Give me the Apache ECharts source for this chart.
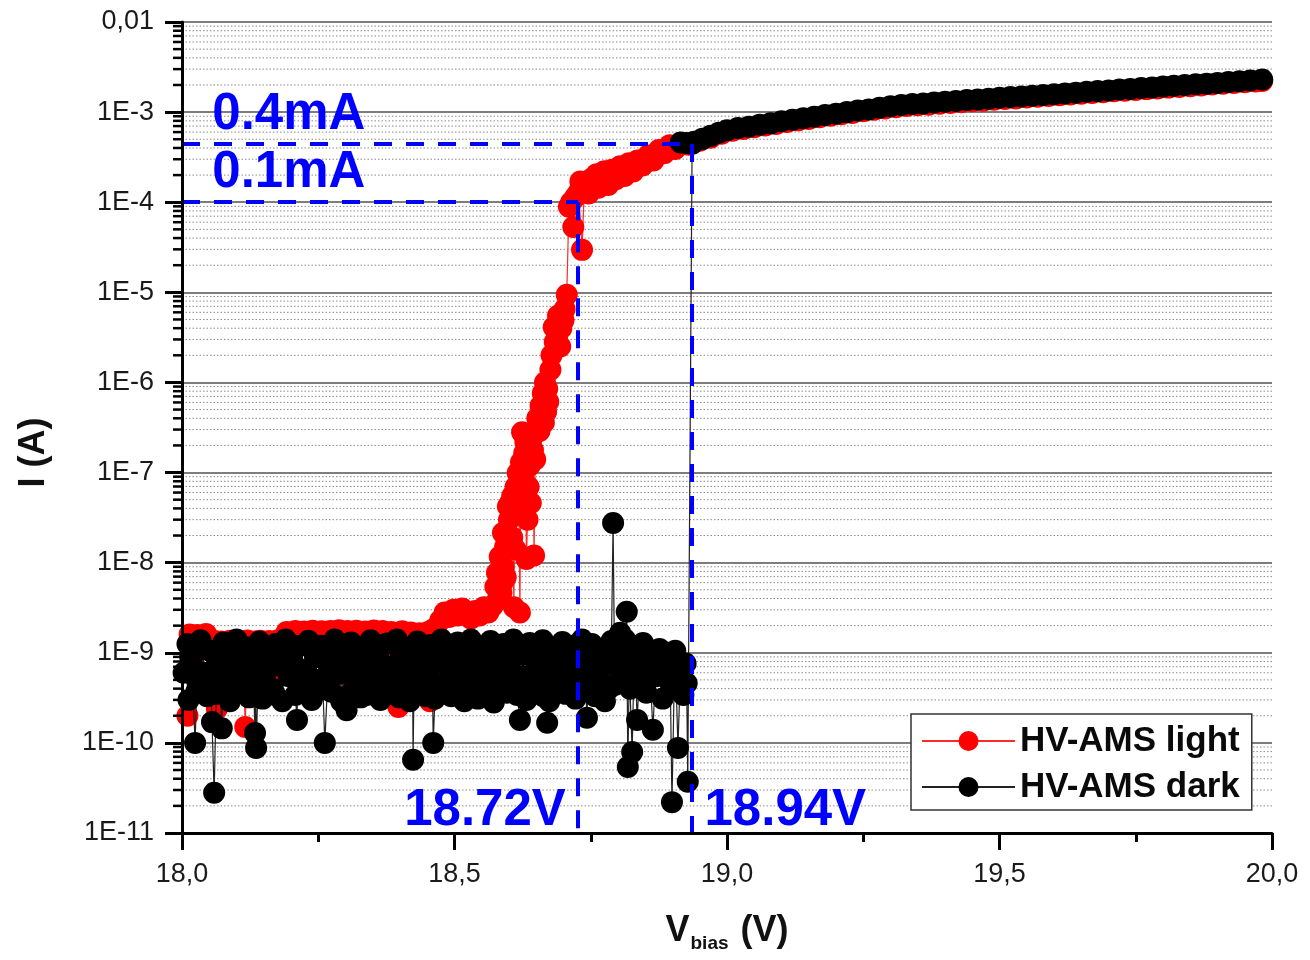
<!DOCTYPE html>
<html><head><meta charset="utf-8">
<script src="https://cdn.jsdelivr.net/npm/echarts@6/dist/echarts.min.js"></script>
<style>html,body{margin:0;padding:0;background:#fff}#c{width:1310px;height:960px}</style>
</head><body><div id="c"></div>
<script>
const FONT = '"Liberation Sans", Arial, Helvetica, sans-serif';
const xMin = 18, xMax = 20, xStep = 0.5;
const yMin = 1e-11, yMax = 1e-2;
const xTickLabels = ['18,0', '18,5', '19,0', '19,5', '20,0'];
const yTickLabels = ['1E-11', '1E-10', '1E-9', '1E-8', '1E-7', '1E-6', '1E-5', '1E-4', '1E-3', '0,01'];
const seriesNames = ['HV-AMS light', 'HV-AMS dark'];

// HV-AMS light: noise floor below breakdown
const lightFloor = [
[18.010,2.0e-10],[18.014,1.6e-9],[18.020,9.0e-10],[18.028,1.58e-9],[18.036,5.0e-10],[18.044,1.62e-9],
[18.052,1.2e-9],[18.060,1.35e-9],[18.064,2.4e-10],[18.072,1.33e-9],[18.080,7.0e-10],[18.088,1.36e-9],
[18.096,4.0e-10],[18.104,1.3e-9],[18.112,1.0e-9],[18.116,1.5e-10],[18.120,1.37e-9],[18.128,6.0e-10],
[18.136,1.34e-9],[18.144,1.36e-9],[18.152,8.0e-10],[18.160,1.35e-9],[18.168,5.5e-10],[18.176,1.38e-9],
[18.184,1.1e-9],[18.192,1.7e-9],[18.200,6.5e-10],[18.208,1.75e-9],[18.216,1.2e-9],[18.224,1.72e-9],
[18.232,4.5e-10],[18.240,1.76e-9],[18.248,9.0e-10],[18.256,1.73e-9],[18.264,1.3e-9],[18.272,1.75e-9],
[18.280,6.0e-10],[18.288,1.78e-9],[18.296,1.1e-9],[18.304,1.74e-9],[18.312,5.0e-10],[18.320,1.76e-9],
[18.328,1.25e-9],[18.336,1.72e-9],[18.344,7.5e-10],[18.352,1.77e-9],[18.360,1.0e-9],[18.368,1.74e-9],
[18.376,5.5e-10],[18.384,1.7e-9],[18.392,1.2e-9],[18.397,2.5e-10],[18.404,1.73e-9],[18.412,8.0e-10],
[18.420,1.68e-9],[18.428,1.3e-9],[18.436,1.65e-9],[18.444,6.0e-10],[18.452,1.7e-9],[18.455,2.9e-10],
[18.460,1.8e-9]
];
// HV-AMS light: steep rise
const lightRise = [
[18.466,1.9e-9],[18.474,2.3e-9],[18.482,2.8e-9],[18.490,2.5e-9],[18.498,3.0e-9],[18.506,2.6e-9],
[18.514,3.1e-9],[18.522,2.7e-9],[18.530,2.4e-9],[18.538,2.9e-9],[18.546,2.6e-9],[18.554,3.2e-9],
[18.562,2.8e-9],[18.570,3.3e-9],[18.575,5.4e-9],[18.578,7.7e-9],[18.583,1.16e-8],[18.586,4.6e-9],
[18.589,2.14e-8],[18.594,6.9e-9],[18.598,4.2e-8],[18.602,4.6e-8],[18.606,1.9e-8],[18.609,3.2e-9],
[18.612,6.9e-8],[18.616,9.9e-8],[18.620,2.8e-9],[18.624,2.8e-7],[18.628,1.65e-7],[18.632,1.1e-8],
[18.636,6.9e-8],[18.640,4.6e-8],[18.644,1.78e-7],[18.650,3.0e-7],[18.656,2.9e-7],[18.662,7.6e-7],
[18.668,4.7e-7],[18.672,6.1e-7],[18.676,1.38e-6],[18.682,4.1e-6],[18.688,3.2e-6],[18.694,2.5e-6],
[18.700,4.9e-6],[18.706,9.4e-6],[18.710,8.9e-5],[18.714,1.0e-4],[18.718,5.3e-5],
[18.580,4.0e-9],[18.588,6.0e-9],[18.590,9.0e-9],[18.593,1.5e-8],[18.600,3.0e-8],[18.606,5.5e-8],
[18.610,3.5e-8],[18.612,1.4e-8],[18.618,6.0e-8],[18.622,1.3e-7],[18.626,9.0e-8],[18.630,2.2e-7],
[18.634,3.0e-8],[18.638,1.2e-7],[18.642,2.4e-7],[18.646,1.2e-8],[18.648,1.4e-7],[18.652,4.0e-7],
[18.658,5.5e-7],[18.664,3.6e-7],[18.666,1.0e-6],[18.670,8.5e-7],[18.678,2.0e-6],[18.684,2.8e-6],
[18.690,5.5e-6],[18.696,4.0e-6],[18.702,6.5e-6]
];
// HV-AMS light: after breakdown
const lightUpper = [
[18.722,1.15e-4],[18.728,1.3e-4],[18.734,2.96e-5],[18.738,1.3e-4],[18.731,1.7e-4],[18.744,1.45e-4],
[18.746,1.25e-4],[18.750,1.5e-4],[18.753,1.85e-4],[18.757,1.6e-4],[18.761,2.05e-4],[18.764,1.45e-4],
[18.768,1.6e-4],[18.771,1.75e-4],[18.775,2.2e-4],[18.778,1.85e-4],[18.782,1.55e-4],[18.785,1.7e-4],
[18.789,2.3e-4],[18.792,2.0e-4],[18.796,1.8e-4],[18.800,2.15e-4],[18.804,2.5e-4],[18.808,2.05e-4],
[18.812,1.95e-4],[18.816,2.35e-4],[18.820,2.7e-4],[18.824,2.5e-4],[18.828,2.2e-4],[18.832,2.45e-4],
[18.836,2.9e-4],[18.840,2.7e-4],[18.845,2.55e-4],[18.850,2.85e-4],[18.855,3.3e-4],[18.860,3.1e-4],
[18.865,2.9e-4],[18.870,3.4e-4],[18.875,3.8e-4],[18.880,3.7e-4],[18.885,3.5e-4],[18.890,3.9e-4],
[18.895,4.3e-4],[18.900,4.1e-4],[18.905,3.9e-4],[18.910,4.3e-4],[18.920,4.4e-4],[18.930,4.35e-4],
[18.950,4.8e-4],[18.970,5.2e-4],[18.990,5.75e-4],
[19.010,6.2e-4],[19.030,6.5e-4],[19.050,6.8e-4],[19.070,7.1e-4],[19.090,7.4e-4],[19.110,7.75e-4],
[19.130,8.1e-4],[19.150,8.4e-4],[19.170,8.75e-4],[19.190,9.1e-4],[19.210,9.45e-4],[19.230,9.8e-4],
[19.250,1.02e-3],[19.270,1.06e-3],[19.290,1.1e-3],[19.310,1.13e-3],[19.330,1.17e-3],[19.350,1.19e-3],
[19.370,1.21e-3],[19.390,1.24e-3],[19.410,1.26e-3],[19.430,1.29e-3],[19.450,1.32e-3],[19.470,1.34e-3],
[19.490,1.37e-3],[19.510,1.4e-3],[19.530,1.42e-3],[19.550,1.45e-3],[19.570,1.48e-3],[19.590,1.51e-3],
[19.610,1.54e-3],[19.630,1.57e-3],[19.650,1.6e-3],[19.670,1.63e-3],[19.690,1.66e-3],[19.710,1.7e-3],
[19.730,1.73e-3],[19.750,1.76e-3],[19.770,1.8e-3],[19.790,1.83e-3],[19.810,1.87e-3],[19.830,1.9e-3],
[19.850,1.94e-3],[19.870,1.98e-3],[19.890,2.02e-3],[19.910,2.06e-3],[19.930,2.1e-3],[19.950,2.14e-3],
[19.970,2.19e-3],[19.982,2.22e-3]
];
// HV-AMS dark: noise floor
const darkFloor = [
[18.010,1.25e-9],[18.012,3.0e-10],[18.018,7.6e-10],[18.024,1.0e-10],[18.028,4.8e-10],[18.034,1.38e-9],
[18.040,6.0e-10],[18.046,3.3e-10],[18.052,1.05e-9],[18.055,1.7e-10],[18.059,2.8e-11],[18.064,8.5e-10],
[18.070,4.1e-10],[18.073,1.45e-10],[18.076,1.3e-9],[18.082,5.3e-10],[18.088,2.9e-10],[18.094,9.4e-10],
[18.100,1.4e-9],[18.106,6.8e-10],[18.112,3.6e-10],[18.118,1.15e-9],[18.124,4.5e-10],[18.130,8.0e-10],
[18.134,1.29e-10],[18.136,8.8e-11],[18.142,1.33e-9],[18.148,3.1e-10],[18.154,6.3e-10],[18.160,1.0e-9],
[18.166,4.0e-10],[18.172,1.25e-9],[18.178,7.2e-10],[18.184,2.9e-10],[18.190,1.4e-9],[18.196,5.5e-10],
[18.202,8.7e-10],[18.208,3.4e-10],[18.211,1.8e-10],[18.214,1.18e-9],[18.220,6.5e-10],[18.226,4.3e-10],
[18.232,1.36e-9],[18.238,3.0e-10],[18.244,9.0e-10],[18.250,5.0e-10],[18.256,1.2e-9],[18.262,1.0e-10],
[18.268,7.5e-10],[18.274,3.7e-10],[18.280,1.4e-9],[18.286,5.8e-10],[18.292,2.9e-10],[18.298,1.02e-9],
[18.302,2.3e-10],[18.304,6.9e-10],[18.310,1.3e-9],[18.316,4.2e-10],[18.322,8.3e-10],[18.328,3.2e-10],
[18.334,1.15e-9],[18.340,6.1e-10],[18.346,1.38e-9],[18.352,4.7e-10],[18.358,9.7e-10],[18.364,3.0e-10],
[18.370,7.3e-10],[18.376,1.27e-9],[18.382,5.2e-10],[18.388,3.5e-10],[18.394,1.4e-9],[18.400,8.6e-10],
[18.406,4.4e-10],[18.412,1.1e-9],[18.418,2.9e-10],[18.424,6.5e-11],[18.426,6.6e-10],[18.432,1.33e-9],
[18.438,3.8e-10],[18.444,9.2e-10],[18.450,5.6e-10],[18.456,1.22e-9],[18.461,1.0e-10],[18.464,3.1e-10],
[18.470,7.8e-10],[18.476,1.4e-9],[18.482,4.6e-10],[18.488,1.0e-9],[18.494,3.3e-10],[18.500,6.4e-10],
[18.506,1.3e-9],[18.512,5.0e-10],[18.518,2.9e-10],[18.524,8.8e-10],[18.530,1.4e-9],[18.536,4.1e-10],
[18.542,7.0e-10],[18.548,1.17e-9],[18.554,3.4e-10],[18.560,5.9e-10],[18.566,1.35e-9],[18.572,2.8e-10],
[18.578,8.2e-10],[18.584,4.8e-10],[18.590,1.25e-9],[18.596,3.6e-10],[18.602,6.8e-10],[18.608,1.4e-9],
[18.614,4.3e-10],[18.620,1.8e-10],[18.626,9.5e-10],[18.632,3.0e-10],[18.638,1.28e-9],[18.644,5.4e-10],
[18.650,8.0e-10],[18.656,3.9e-10],[18.662,1.38e-9],[18.668,6.2e-10],[18.670,1.67e-10],[18.674,2.9e-10],
[18.680,1.08e-9],[18.686,4.5e-10],[18.692,7.6e-10],[18.698,1.32e-9],[18.704,3.5e-10],[18.710,5.7e-10],
[18.716,1.2e-9],[18.722,3.1e-10],[18.728,8.6e-10],[18.734,1.4e-9],[18.740,4.9e-10],[18.743,1.9e-10],
[18.746,7.2e-10],[18.752,1.25e-9],[18.758,3.3e-10],[18.764,6.0e-10],[18.770,1.1e-9],[18.776,2.9e-10],
[18.782,8.4e-10],[18.788,1.35e-9],[18.791,2.75e-8],[18.794,4.4e-10],[18.800,6.9e-10],[18.804,1.67e-9],
[18.809,9.0e-10],[18.816,2.85e-9],[18.818,5.4e-11],[18.822,4.0e-10],[18.826,7.9e-11],[18.830,1.2e-9],
[18.835,1.8e-10],[18.840,6.5e-10],[18.846,1.28e-9],[18.852,3.6e-10],[18.858,8.0e-10],[18.864,1.4e-10],
[18.870,5.5e-10],[18.876,1.1e-9],[18.882,3.1e-10],[18.888,7.0e-10],[18.890,1.0e-9],[18.896,4.6e-10],
[18.899,2.2e-11],[18.904,8.3e-10],[18.910,8.8e-11],[18.914,5.2e-10],[18.920,3.4e-10],[18.924,7.6e-10],
[18.928,3.7e-11]
];
// HV-AMS dark: additional noise-floor readings between the ones above
const darkFloorMore = [
[18.003,6.0e-10],[18.015,9.0e-10],[18.027,3.8e-10],[18.039,1.1e-9],[18.051,5.2e-10],[18.063,3.5e-10],
[18.075,7.0e-10],[18.087,1.15e-9],[18.099,4.6e-10],[18.111,8.2e-10],[18.123,3.2e-10],[18.135,6.4e-10],
[18.147,1.05e-9],[18.159,4.2e-10],[18.171,3.4e-10],[18.183,9.6e-10],[18.195,6.8e-10],[18.207,1.2e-9],
[18.219,3.6e-10],[18.231,5.6e-10],[18.243,1.1e-9],[18.255,3.9e-10],[18.267,4.4e-10],[18.279,8.8e-10],
[18.291,6.0e-10],[18.303,3.3e-10],[18.315,1.0e-9],[18.327,5.7e-10],[18.339,3.4e-10],[18.351,7.8e-10],
[18.363,1.15e-9],[18.375,4.0e-10],[18.387,6.7e-10],[18.399,3.2e-10],[18.411,5.4e-10],[18.423,9.4e-10],
[18.435,4.7e-10],[18.447,3.3e-10],[18.459,7.4e-10],[18.471,4.2e-10],[18.483,1.1e-9],[18.495,5.6e-10],
[18.507,3.5e-10],[18.519,7.2e-10],[18.531,4.4e-10],[18.543,3.1e-10],[18.555,9.0e-10],[18.567,5.0e-10],
[18.579,3.6e-10],[18.591,6.6e-10],[18.603,1.05e-9],[18.615,3.4e-10],[18.627,5.5e-10],[18.639,4.0e-10],
[18.651,1.15e-9],[18.663,3.3e-10],[18.675,7.0e-10],[18.687,5.1e-10],[18.699,9.2e-10],[18.711,3.6e-10],
[18.723,6.2e-10],[18.735,4.3e-10],[18.747,1.0e-9],[18.759,5.2e-10],[18.771,7.4e-10],[18.783,4.0e-10],
[18.795,1.1e-9],[18.807,5.8e-10],[18.813,1.4e-9],[18.821,8.0e-10],[18.833,4.6e-10],[18.845,7.2e-10],
[18.857,1.0e-9],[18.869,6.0e-10],[18.881,8.5e-10],[18.893,5.6e-10],[18.905,1.05e-9],[18.917,6.4e-10],
[18.926,4.6e-10]
];
// HV-AMS dark: after breakdown
const darkUpper = [
[18.936,4.45e-4],[18.915,4.6e-4],[18.925,4.55e-4],[18.940,4.7e-4],[18.955,5.05e-4],[18.970,5.45e-4],
[18.985,5.9e-4],[19.000,6.3e-4],[19.020,6.65e-4],[19.040,6.9e-4],[19.060,7.25e-4],[19.080,7.5e-4],
[19.100,7.9e-4],[19.120,8.25e-4],[19.140,8.55e-4],[19.160,8.9e-4],[19.180,9.3e-4],[19.200,9.6e-4],
[19.220,1.0e-3],[19.240,1.04e-3],[19.260,1.07e-3],[19.280,1.12e-3],[19.300,1.16e-3],[19.320,1.2e-3],
[19.340,1.23e-3],[19.360,1.25e-3],[19.380,1.28e-3],[19.400,1.3e-3],[19.420,1.33e-3],[19.440,1.36e-3],
[19.460,1.38e-3],[19.480,1.41e-3],[19.500,1.44e-3],[19.520,1.47e-3],[19.540,1.49e-3],[19.560,1.52e-3],
[19.580,1.55e-3],[19.600,1.58e-3],[19.620,1.61e-3],[19.640,1.64e-3],[19.660,1.68e-3],[19.680,1.71e-3],
[19.700,1.74e-3],[19.720,1.78e-3],[19.740,1.81e-3],[19.760,1.85e-3],[19.780,1.88e-3],[19.800,1.92e-3],
[19.820,1.96e-3],[19.840,2.0e-3],[19.860,2.04e-3],[19.880,2.07e-3],[19.900,2.11e-3],[19.920,2.16e-3],
[19.940,2.2e-3],[19.960,2.24e-3],[19.982,2.3e-3]
];

// Threshold guides (blue dashed)
const guideCurrents = [4.43e-4, 1.0e-4];
const guideVoltages = [18.936, 18.727];
// Annotation texts and their anchor values
const annotText = ['0.4mA', '0.1mA', '18.72V', '18.94V'];
const annotV = [18.196, 18.196, 18.556, 19.107];
const annotI = [9.3e-4, 2.09e-4, 1.75e-11, 1.75e-11];

const byV = (a, b) => a[0] - b[0];
const lightData = lightFloor.slice().sort(byV).concat(lightRise.slice().sort(byV), lightUpper);
const darkData = darkFloor.concat(darkFloorMore).sort(byV).concat(darkUpper);

// log-axis minor positions (2..9 per decade)
const minorVals = [];
for (let e = -11; e < -2; e++) for (let m = 2; m <= 9; m++) minorVals.push(+(m + 'e' + e));

const chart = echarts.init(document.getElementById('c'), null, {renderer: 'canvas'});

const yLabelFmt = v => yTickLabels[Math.round(Math.log10(v)) + 11];
const xLabelFmt = v => xTickLabels[Math.round((v - xMin) / xStep)];

const dash = {color: '#0000ff', width: 4, type: [18, 14], opacity: 1};
const guideLines = [
  [{coord: [xMin, guideCurrents[0]]}, {coord: [guideVoltages[0], guideCurrents[0]]}],
  [{coord: [guideVoltages[0], guideCurrents[0]]}, {coord: [guideVoltages[0], yMin]}],
  [{coord: [xMin, guideCurrents[1]]}, {coord: [guideVoltages[1], guideCurrents[1]]}],
  [{coord: [guideVoltages[1], guideCurrents[1]]}, {coord: [guideVoltages[1], yMin]}]
];

const MS = 22;

const option = {
  animation: false,
  backgroundColor: '#ffffff',
  grid: {left: 182, right: 38, top: 22, bottom: 127, outerBoundsMode: 'none', containLabel: false},
  legend: {
    data: seriesNames,
    orient: 'vertical',
    left: 911, top: 714,
    padding: [7, 12, 3, 10],
    itemGap: 6,
    itemWidth: 93, itemHeight: 25,
    backgroundColor: '#ffffff',
    borderColor: '#333333', borderWidth: 1.5, borderRadius: 0,
    selectedMode: false,
    textStyle: {fontFamily: FONT, fontSize: 35, fontWeight: 'bold', color: '#0a0a0a', lineHeight: 40}
  },
  xAxis: {
    type: 'value', min: xMin, max: xMax, interval: xStep,
    name: '{v|V}{s|bias}{v| (V)}',
    nameLocation: 'middle', nameGap: 76, nameMoveOverlap: false,
    nameTextStyle: {rich: {
      v: {fontFamily: FONT, fontSize: 36, fontWeight: 'bold', color: '#111', lineHeight: 44},
      s: {fontFamily: FONT, fontSize: 19, fontWeight: 'bold', color: '#111', verticalAlign: 'bottom', lineHeight: 44, padding: [0, 2, 0, 1]}
    }},
    axisLine: {show: true, onZero: false, lineStyle: {color: '#000', width: 3}},
    axisTick: {show: true, length: 17, lineStyle: {color: '#000', width: 3}},
    minorTick: {show: true, splitNumber: 2, length: 9, lineStyle: {color: '#000', width: 3}},
    splitLine: {show: false},
    axisLabel: {margin: 28, fontFamily: FONT, fontSize: 27, color: '#1a1a1a', formatter: xLabelFmt},
    z: 10
  },
  yAxis: [
    {
      type: 'log', logBase: 10, min: yMin, max: yMax, splitNumber: 9,
      axisLine: {show: false}, axisTick: {show: false}, axisLabel: {show: false},
      splitLine: {show: true, lineStyle: {color: '#7d7d7d', width: 2}}
    },
    {
      type: 'log', logBase: 10, min: yMin, max: yMax, splitNumber: 9, position: 'left',
      name: 'I (A)', nameLocation: 'middle', nameGap: 130, nameMoveOverlap: false,
      nameTextStyle: {fontFamily: FONT, fontSize: 36, fontWeight: 'bold', color: '#111', padding: [0, 50, 0, 0]},
      axisLine: {show: true, onZero: false, lineStyle: {color: '#000', width: 3}},
      axisTick: {show: true, length: 17, lineStyle: {color: '#000', width: 3}},
      splitLine: {show: false},
      axisLabel: {margin: 28, fontFamily: FONT, fontSize: 27, color: '#1a1a1a', formatter: yLabelFmt},
      z: 10
    }
  ],
  series: [
    {
      type: 'custom', name: 'minorGrid', coordinateSystem: 'cartesian2d', yAxisIndex: 0,
      silent: true, z: 1,
      data: minorVals.map(v => [xMin, v]),
      encode: {x: 0, y: 1},
      renderItem: (params, api) => {
        const v = api.value(1);
        const p0 = api.coord([xMin, v]);
        const p1 = api.coord([xMax, v]);
        return {type: 'line', shape: {x1: p0[0], y1: p0[1], x2: p1[0], y2: p1[1]},
          style: {stroke: '#8a8a8a', lineWidth: 1, lineDash: [1.5, 2]}};
      }
    },
    {
      type: 'line', name: seriesNames[0], yAxisIndex: 0, data: lightData,
      symbol: 'circle', symbolSize: MS, showSymbol: true, showAllSymbol: true,
      itemStyle: {color: '#ff0000'}, lineStyle: {color: '#ff2a2a', width: 1.2},
      emphasis: {disabled: true}, z: 2
    },
    {
      type: 'line', name: seriesNames[1], yAxisIndex: 0, data: darkData,
      symbol: 'circle', symbolSize: MS, showSymbol: true, showAllSymbol: true,
      itemStyle: {color: '#000000'}, lineStyle: {color: '#222222', width: 1.2},
      emphasis: {disabled: true}, z: 3
    },
    {
      type: 'scatter', name: 'annotations', yAxisIndex: 0, z: 6, silent: true,
      symbol: 'circle', symbolSize: 1, itemStyle: {color: 'rgba(0,0,0,0)'},
      data: annotText.map((t, i) => ({name: t, value: [annotV[i], annotI[i]]})),
      label: {show: true, position: 'inside', formatter: p => p.name,
        fontFamily: FONT, fontSize: 51, fontWeight: 'bold', color: '#0000ff',
        textBorderWidth: 0, textBorderColor: 'transparent', textShadowBlur: 0, opacity: 1},
      markLine: {silent: true, symbol: ['none', 'none'], label: {show: false},
        lineStyle: dash, emphasis: {disabled: true}, data: guideLines, animation: false}
    },
    {
      type: 'custom', name: 'minorTicks', coordinateSystem: 'cartesian2d', yAxisIndex: 0,
      silent: true, z: 11, clip: false,
      data: minorVals.map(v => [xMin, v]),
      encode: {x: 0, y: 1},
      renderItem: (params, api) => {
        const p0 = api.coord([xMin, api.value(1)]);
        return {type: 'line', shape: {x1: p0[0] - 9, y1: p0[1], x2: p0[0], y2: p0[1]},
          style: {stroke: '#000', lineWidth: 2.5}};
      }
    }
  ]
};
chart.setOption(option);
</script></body></html>
